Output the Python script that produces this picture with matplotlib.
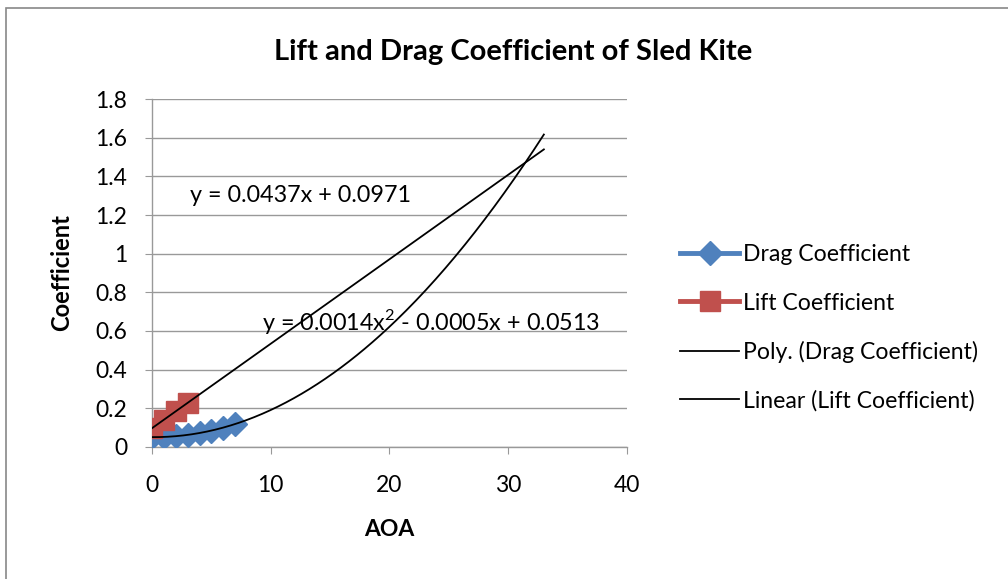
import numpy as np
import matplotlib
matplotlib.use("Agg")
import matplotlib.pyplot as plt
from matplotlib.patches import Rectangle

# Data
aoa_drag = [0, 1, 2, 3, 4, 5, 6, 7]
drag = [0.051, 0.052, 0.056, 0.063, 0.072, 0.085, 0.100, 0.119]
aoa_lift = [0, 1, 2, 3]
lift = [0.097, 0.141, 0.185, 0.228]
trend_end = 33
xticks = [0, 10, 20, 30, 40]
yticks = [0, 0.2, 0.4, 0.6, 0.8, 1, 1.2, 1.4, 1.6, 1.8]
title = "Lift and Drag Coefficient of Sled Kite"
lin_eq = "y = 0.0437x + 0.0971"
poly_eq = "y = 0.0014x$^2$ - 0.0005x + 0.0513"

FONT = "Lato"
plt.rcParams['font.family'] = [FONT, 'DejaVu Sans']
plt.rcParams['mathtext.fontset'] = 'custom'
plt.rcParams['mathtext.rm'] = FONT

fig = plt.figure(figsize=(10.08, 5.79), dpi=100)
fig.patches.append(Rectangle((0.006, -0.02), 1.1, 1.006, transform=fig.transFigure,
                             fill=False, edgecolor='#888888', linewidth=1.2))
ax = fig.add_axes([0.1508, 0.228, 0.4712, 0.601])

blue = '#4F81BD'
red = '#C0504D'
ax.plot(aoa_drag, drag, color=blue, lw=3.5, marker='D', ms=12, mec=blue, label='Drag Coefficient', zorder=3)
ax.plot(aoa_lift, lift, color=red, lw=3.5, marker='s', ms=14, mec=red, label='Lift Coefficient', zorder=3)

cp = np.polyfit(aoa_drag, drag, 2)
xs = np.linspace(0, trend_end, 200)
ax.plot(xs, np.polyval(cp, xs), color='black', lw=1.3, label='Poly. (Drag Coefficient)', zorder=4)
cl = np.polyfit(aoa_lift, lift, 1)
ax.plot(xs, np.polyval(cl, xs), color='black', lw=1.3, label='Linear (Lift Coefficient)', zorder=4)

ax.set_xlim(0, 40)
ax.set_ylim(0, 1.8)
ax.set_xticks(xticks)
ax.set_xticklabels([str(v) for v in xticks])
ax.set_yticks(yticks)
ax.set_yticklabels([f"{v:g}" for v in yticks])
ax.yaxis.grid(True, color='#999999', lw=1)
ax.set_axisbelow(True)
for s in ['top', 'right']:
    ax.spines[s].set_visible(False)
for s in ['left', 'bottom']:
    ax.spines[s].set_color('#999999')
    ax.spines[s].set_linewidth(1)
ax.tick_params(axis='x', length=5, color='#999999', labelsize=16.5, pad=15)
ax.tick_params(axis='y', length=5, color='#999999', labelsize=16.5, pad=13)

ax.set_xlabel("AOA", fontsize=16.5, fontweight='bold', labelpad=17)
ax.set_ylabel("Coefficient", fontsize=17, fontweight='bold', labelpad=16)
fig.text(0.509, 0.91, title, fontsize=21, fontweight='bold', ha='center', va='center')

ax.text(3.2, 1.30, lin_eq, fontsize=16.8, va='center')
ax.text(9.3, 0.647, poly_eq, fontsize=16.8, va='center')

fig.legend(loc='upper left', bbox_to_anchor=(0.665, 0.594), frameon=False,
           fontsize=16.6, labelspacing=1.18, handlelength=2.6, handletextpad=0.15,
           borderaxespad=0)

fig.savefig("out.png", dpi=100)
